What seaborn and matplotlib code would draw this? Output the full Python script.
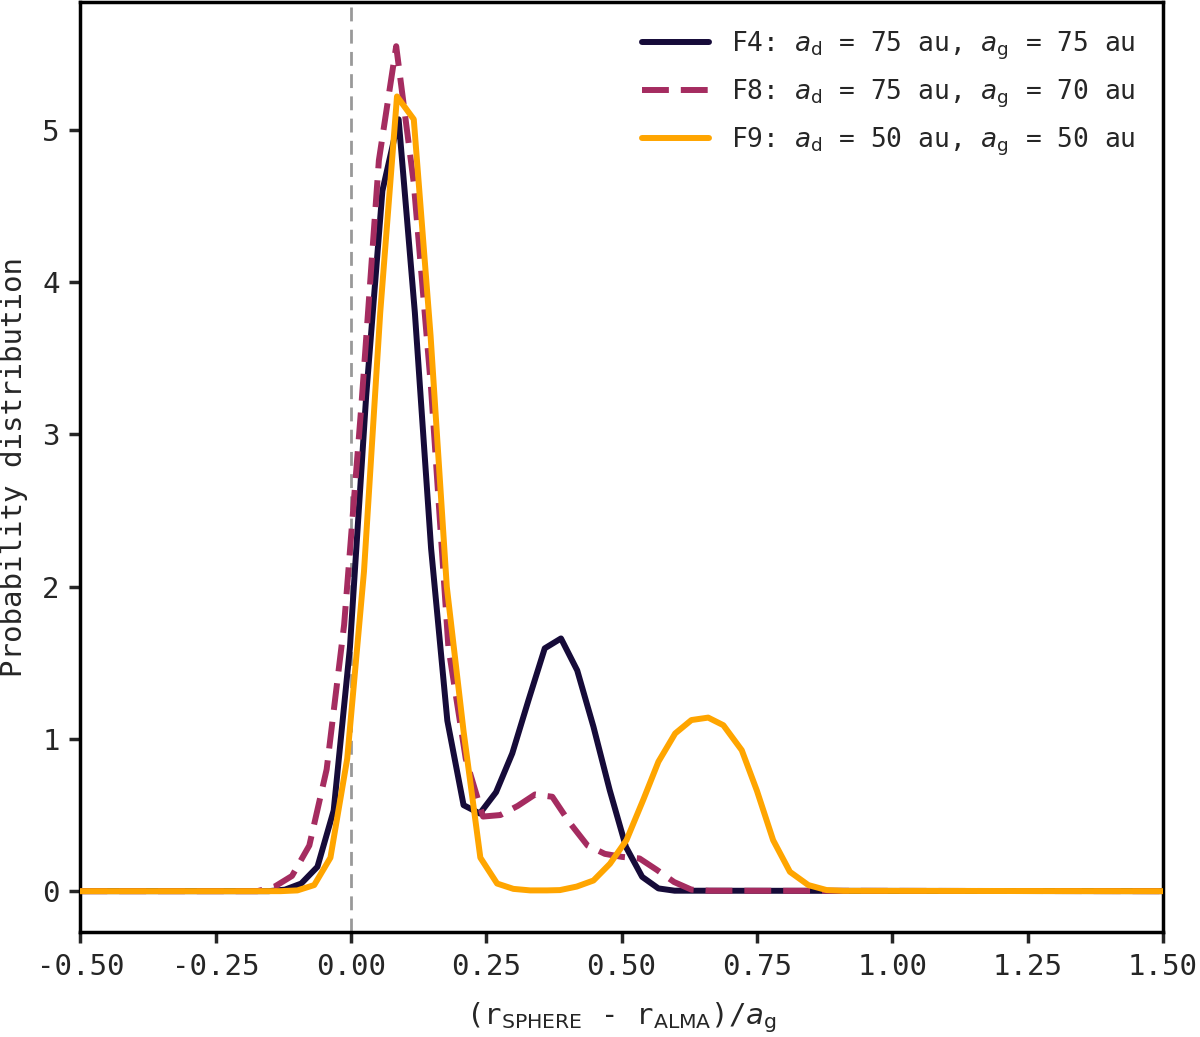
import numpy as np
import pandas as pd
import matplotlib
matplotlib.use("Agg")
import matplotlib.pyplot as plt
import seaborn as sns

# ---------------- data ----------------
f4_x = [-0.5, -0.152, -0.122, -0.092, -0.062, -0.032, -0.002, 0.028, 0.058, 0.088,
        0.118, 0.148, 0.178, 0.208, 0.238, 0.268, 0.298, 0.328, 0.358, 0.388,
        0.418, 0.448, 0.478, 0.508, 0.538, 0.568, 0.598, 1.5]
f4_y = [0.0, 0.0, 0.01, 0.05, 0.16, 0.53, 1.6, 3.25, 4.6, 5.07,
        3.8, 2.25, 1.12, 0.565, 0.51, 0.65, 0.905, 1.255, 1.595, 1.66,
        1.45, 1.08, 0.664, 0.291, 0.094, 0.018, 0.003, 0.0]

f8_x = [-0.5, -0.173, -0.141, -0.109, -0.077, -0.045, -0.0127, 0.0194, 0.0515, 0.0835,
        0.116, 0.148, 0.180, 0.212, 0.244, 0.276, 0.308, 0.340, 0.372, 0.404,
        0.437, 0.469, 0.501, 0.533, 0.565, 0.597, 0.629, 0.661, 1.5]
f8_y = [0.0, 0.0, 0.03, 0.1, 0.3, 0.8, 1.75, 3.2, 4.8, 5.55,
        4.65, 3.3, 1.6, 0.87, 0.49, 0.5, 0.56, 0.635, 0.62, 0.45,
        0.30, 0.245, 0.225, 0.215, 0.14, 0.06, 0.01, 0.003, 0.0]

f9_x = [-0.5, -0.13, -0.099, -0.068, -0.038, -0.007, 0.024, 0.054, 0.085, 0.116,
        0.147, 0.177, 0.208, 0.239, 0.27, 0.30, 0.331, 0.362, 0.386, 0.417,
        0.448, 0.4785, 0.509, 0.540, 0.568, 0.599, 0.629, 0.660, 0.688, 0.722,
        0.75, 0.780, 0.811, 0.845, 0.879, 0.91, 1.5]
f9_y = [0.0, 0.0, 0.005, 0.04, 0.22, 0.87, 2.1, 3.8, 5.22, 5.07,
        3.65, 2.0, 1.05, 0.22, 0.05, 0.015, 0.005, 0.005, 0.007, 0.03,
        0.07, 0.18, 0.335, 0.6, 0.85, 1.036, 1.124, 1.14, 1.09, 0.926,
        0.66, 0.335, 0.127, 0.04, 0.007, 0.002, 0.0]

labels = [r"F4: $a_\mathrm{d}$ = 75 au, $a_\mathrm{g}$ = 75 au",
          r"F8: $a_\mathrm{d}$ = 75 au, $a_\mathrm{g}$ = 70 au",
          r"F9: $a_\mathrm{d}$ = 50 au, $a_\mathrm{g}$ = 50 au"]
colors = ["#160b39", "#a52c60", "#ffa500"]
styles = ["-", (0, (4.5, 2.0)), "-"]

x_ticks = [-0.5, -0.25, 0.0, 0.25, 0.5, 0.75, 1.0, 1.25, 1.5]
y_ticks = [0, 1, 2, 3, 4, 5]

# ---------------- style ----------------
sns.set_style("ticks")
plt.rcParams["font.family"] = ["DejaVu Sans Mono", "DejaVu Sans"]
plt.rcParams["mathtext.fontset"] = "dejavusans"
plt.rcParams["axes.unicode_minus"] = False

fig = plt.figure(figsize=(12, 10.37), dpi=100)
ax = fig.add_axes([0.067, 0.101, 0.902, 0.897])

ax.axvline(0.0, color="#999999", lw=2.0, ls=(0, (5, 3)), zorder=1)

series = [(f4_x, f4_y), (f8_x, f8_y), (f9_x, f9_y)]
for (xs, ys), lab, col, st in zip(series, labels, colors, styles):
    df = pd.DataFrame({"x": xs, "y": ys})
    sns.lineplot(data=df, x="x", y="y", ax=ax, color=col, lw=4.3,
                 linestyle=st, label=lab, sort=False, estimator=None, zorder=3)

ax.set_xlim(-0.5, 1.5)
ax.set_ylim(-0.27, 5.84)
ax.set_xticks(x_ticks)
ax.set_xticklabels([f"{t:.2f}" for t in x_ticks])
ax.set_yticks(y_ticks)
ax.set_yticklabels([str(t) for t in y_ticks])

ax.tick_params(axis="both", labelsize=21, length=8, width=2.5, direction="out", pad=7)
for sp in ax.spines.values():
    sp.set_linewidth(2.5)
    sp.set_color("black")

ax.set_xlabel(r"(r$_\mathrm{SPHERE}$ - r$_\mathrm{ALMA}$)/$a_\mathrm{g}$", fontsize=21, labelpad=14)
ax.set_ylabel("Probability distribution", fontsize=21, labelpad=10)

leg = ax.legend(loc="upper right", frameon=False, fontsize=18.9, handlelength=2.55,
                labelspacing=0.6, handletextpad=0.84, borderaxespad=0.65)

fig.savefig("out.png", dpi=100)
